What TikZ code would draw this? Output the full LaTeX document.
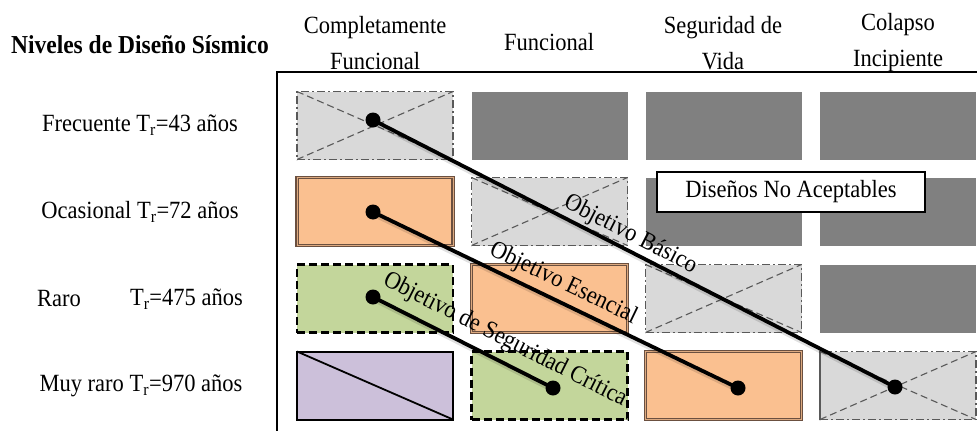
\documentclass[tikz,border=0pt]{standalone}
\usepackage{fontspec}
\usepackage{graphicx}
\setmainfont{Liberation Serif}
\usetikzlibrary{calc}

\definecolor{lightcell}{HTML}{D9D9D9}
\definecolor{darkcell}{HTML}{808080}
\definecolor{orangecell}{HTML}{FAC090}
\definecolor{orangeedge}{HTML}{6B5040}
\definecolor{greencell}{HTML}{C3D69B}
\definecolor{purplecell}{HTML}{CCC0DA}
\definecolor{edgegray}{HTML}{595959}

% slightly tall lettering
\newcommand{\tall}[1]{\scalebox{1}[1.1]{#1}}

\tikzset{
  txt/.style={font=\fontsize{22.5}{36}\selectfont, inner sep=2pt, align=center},
  cell/.style={minimum width=156pt, minimum height=68pt, inner sep=0pt, outer sep=0pt},
  blocked/.style={cell, fill=darkcell},
  crossed/.style={cell, fill=lightcell, draw=edgegray, line width=1.5pt,
    dash pattern=on 8pt off 3pt on 2pt off 3pt},
  crossline/.style={edgegray, line width=1.1pt, dash pattern=on 7pt off 4pt},
  doubled/.style={cell, fill=orangecell, draw=orangeedge, line width=1.3pt,
    double=orangecell!80!orangeedge, double distance=0.7pt},
  greenbox/.style={cell, fill=greencell, draw=black, line width=2.2pt,
    dash pattern=on 8pt off 4pt},
  purplebox/.style={cell, fill=purplecell, draw=black, line width=2pt},
  objline/.style={line width=3.8pt, black},
  objshadow/.style={line width=5pt, black, opacity=0.12},
  dot/.style={circle, fill=black, inner sep=0pt, minimum size=15pt},
  objlabel/.style={font=\fontsize{22.5}{24}\selectfont, sloped, above, inner sep=2pt}
}

\begin{document}
\begin{tikzpicture}[x=1pt, y=1pt]
\useasboundingbox (0,0) rectangle (977,-431);
\fill[white] (0,0) rectangle (977,-431);

% frame of the matrix
\coordinate (frameTL) at (277,-72);
\coordinate (frameTR) at (977,-72);
\coordinate (frameBL) at (277,-431);
\draw[line width=2pt] (frameTR) -- (frameTL) -- (frameBL);

% headers
\node[txt, font=\fontsize{23.5}{36}\selectfont\bfseries] (title) at (140,-45) {\tall{Niveles de Diseño Sísmico}};
\node[txt] (h1) at (375,-43) {\tall{Completamente}\\\tall{Funcional}};
\node[txt] (h2) at (549,-42) {\tall{Funcional}};
\node[txt] (h3) at (723,-43) {\tall{Seguridad de}\\\tall{Vida}};
\node[txt] (h4) at (898,-43) {\tall{Colapso}\\\tall{Incipiente}};

% row labels
\node[txt] (r1) at (140,-125) {\tall{Frecuente T\textsubscript{r}=43 años}};
\node[txt] (r2) at (140,-212) {\tall{Ocasional T\textsubscript{r}=72 años}};
\node[txt, anchor=west] (r3a) at (35,-299) {\tall{Raro}};
\node[txt, anchor=east] (r3b) at (245,-299) {\tall{T\textsubscript{r}=475 años}};
\node[txt] (r4) at (141,-386) {\tall{Muy raro T\textsubscript{r}=970 años}};

% row 1
\node[crossed] (c11) at (375,-125.5) {};
\node[blocked] (c12) at (549.5,-125.5) {};
\node[blocked] (c13) at (723.5,-125.5) {};
\node[blocked] (c14) at (898,-125.5) {};
% row 2
\node[doubled] (c21) at (375,-211.5) {};
\node[crossed] (c22) at (549.5,-211.5) {};
\node[blocked] (c23) at (723.5,-211.5) {};
\node[blocked] (c24) at (898,-211.5) {};
% row 3
\node[greenbox] (c31) at (375,-298.5) {};
\node[doubled] (c32) at (549.5,-298.5) {};
\node[crossed] (c33) at (723.5,-298.5) {};
\node[blocked] (c34) at (898,-298.5) {};
% row 4
\node[purplebox] (c41) at (375,-385.5) {};
\node[greenbox] (c42) at (549.5,-385.5) {};
\node[doubled] (c43) at (723.5,-385.5) {};
\node[crossed] (c44) at (898,-385.5) {};

% crosses in the light cells
\foreach \c in {c11,c22,c33,c44}{
  \draw[crossline] (\c.north west) -- (\c.south east);
  \draw[crossline] (\c.south west) -- (\c.north east);
}
\draw[edgegray, line width=1.6pt] (c44.north west) -- (c44.south west);
\draw[black, line width=1.8pt] (c41.north west) -- (c41.south east);

% legend box
\node[draw=black, line width=1.6pt, fill=white, minimum width=268pt, minimum height=40pt,
  inner sep=0pt, font=\fontsize{22.5}{24}\selectfont] (legend) at (791,-192) {\tall{Diseños No Aceptables}};

% objective points
\coordinate (b1) at (373,-120);
\coordinate (b2) at (895,-387);
\coordinate (e1) at (373,-212);
\coordinate (e2) at (738,-388);
\coordinate (s1) at (373,-297);
\coordinate (s2) at (553,-388);

% soft shadows under the objective lines
\foreach \a/\b in {b1/b2,e1/e2,s1/s2}{
  \draw[objshadow] ($(\a)+(2,-3)$) -- ($(\b)+(2,-3)$);
}

% objective lines
\draw[objline] (b1) -- node[objlabel, pos=0.48] {\tall{Objetivo Básico}} (b2);
\draw[objline] (e1) -- node[objlabel, pos=0.5, yshift=3pt] {\tall{Objetivo Esencial}} (e2);
\draw[objline] (s1) -- node[objlabel, pos=0.68, yshift=6pt] {\tall{Objetivo de Seguridad Crítica}} (s2);

\foreach \p in {b1,b2,e1,e2,s1,s2}{
  \node[dot] (d\p) at (\p) {};
}
\end{tikzpicture}
\end{document}
